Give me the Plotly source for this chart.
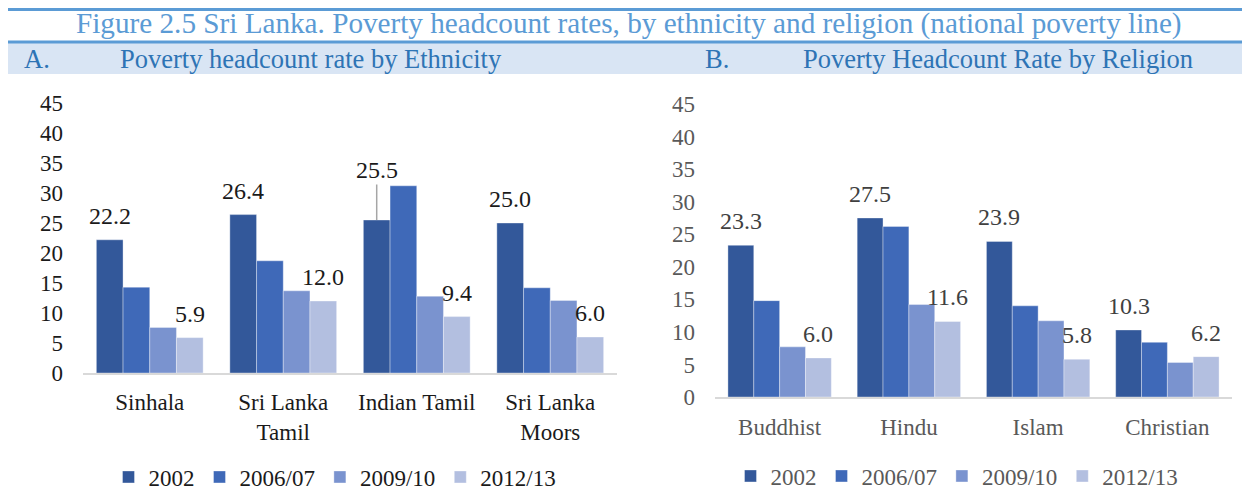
import plotly.graph_objects as go

# ---------------- data ----------------
years = ["2002", "2006/07", "2009/10", "2012/13"]

ethnicity = ["Sinhala", "Sri Lanka Tamil", "Indian Tamil", "Sri Lanka Moors"]
ethnicity_ticks = ["Sinhala", "Sri Lanka<br>Tamil", "Indian Tamil", "Sri Lanka<br>Moors"]
eth_2002 = [22.2, 26.4, 25.5, 25.0]
eth_2006 = [14.3, 18.7, 31.2, 14.2]
eth_2009 = [7.6, 13.7, 12.8, 12.1]
eth_2012 = [5.9, 12.0, 9.4, 6.0]

religion = ["Buddhist", "Hindu", "Islam", "Christian"]
rel_2002 = [23.3, 27.5, 23.9, 10.3]
rel_2006 = [14.8, 26.2, 14.0, 8.4]
rel_2009 = [7.7, 14.2, 11.7, 5.3]
rel_2012 = [6.0, 11.6, 5.8, 6.2]

y_ticks = [0, 5, 10, 15, 20, 25, 30, 35, 40, 45]

title_text = "Figure 2.5 Sri Lanka. Poverty headcount rates, by ethnicity and religion (national poverty line)"
panel_a = ["A.", "Poverty headcount rate by Ethnicity"]
panel_b = ["B.", "Poverty Headcount Rate by Religion"]

# ---------------- style ----------------
W, H = 1250, 491
OFF = 8  # page body margin: the figure's top-left sits at (8, 8) on the page
FONT = "Liberation Serif"
colors = ["#33589a", "#3f69b8", "#7a93cf", "#b3bfe0"]
BARGAP = 0.2


def px_x(p):
    """page x pixel -> paper fraction"""
    return (p - OFF) / W


def px_y(p):
    """page y pixel -> paper fraction"""
    return 1 - (p - OFF) / H


fig = go.Figure()

eth_series = [eth_2002, eth_2006, eth_2009, eth_2012]
rel_series = [rel_2002, rel_2006, rel_2009, rel_2012]

for i, (yr, vals) in enumerate(zip(years, eth_series)):
    fig.add_trace(go.Bar(
        x=ethnicity, y=vals, name=yr, marker_color=colors[i],
        marker_line=dict(color="rgba(255,255,255,0.6)", width=0.6),
        xaxis="x", yaxis="y", legend="legend", hoverinfo="x+y+name",
    ))
for i, (yr, vals) in enumerate(zip(years, rel_series)):
    fig.add_trace(go.Bar(
        x=religion, y=vals, name=yr, marker_color=colors[i],
        marker_line=dict(color="rgba(255,255,255,0.6)", width=0.6),
        xaxis="x2", yaxis="y2", legend="legend2", hoverinfo="x+y+name",
    ))

n = len(years)
bw = (1 - BARGAP) / n


def offset(i):
    return -0.5 * (1 - BARGAP) + bw * (i + 0.5)


annotations = []
labelled = [0, 3]
for series, xref, yref, color in [(eth_series, "x", "y", "#1a1a1a"),
                                  (rel_series, "x2", "y2", "#404040")]:
    for i in labelled:
        for j, v in enumerate(series[i]):
            # label that would collide with a taller neighbour is lifted with a leader line
            lifted = (i == 0 and j + 1 < n and series[1][j] > v + 3)
            a = dict(x=j + offset(i), y=v, xref=xref, yref=yref,
                     text=f"{v:.1f}", font=dict(family=FONT, size=24, color=color))
            if lifted:
                a.update(showarrow=True, ax=0, ay=-50, arrowhead=0,
                         arrowcolor="#a6a6a6", arrowwidth=1.5, standoff=0)
            else:
                a.update(showarrow=False, yanchor="bottom", yshift=9)
            annotations.append(a)

# title and panel headers
annotations.append(dict(x=px_x(629), y=px_y(24), xref="paper", yref="paper",
                        text=title_text, showarrow=False, xanchor="center", yanchor="middle",
                        font=dict(family=FONT, size=29.2, color="#5b9bd5")))
for txt, xp in [(panel_a[0], 22), (panel_a[1], 118), (panel_b[0], 703), (panel_b[1], 801)]:
    annotations.append(dict(x=px_x(xp), y=px_y(59), xref="paper", yref="paper",
                            text=txt, showarrow=False, xanchor="left", yanchor="middle",
                            font=dict(family=FONT, size=26.5, color="#2e74b5")))

top_line = max(5, OFF + 1.5)
shapes = [
    dict(type="rect", xref="paper", yref="paper", x0=max(px_x(7), 0), x1=1,
         y0=px_y(74), y1=px_y(43),
         fillcolor="#d9e5f4", line=dict(width=0), layer="below"),
    dict(type="line", xref="paper", yref="paper", x0=max(px_x(7), 0), x1=1,
         y0=px_y(top_line), y1=px_y(top_line),
         line=dict(color="#5b9bd5", width=3)),
    dict(type="line", xref="paper", yref="paper", x0=max(px_x(7), 0), x1=1,
         y0=px_y(42), y1=px_y(42),
         line=dict(color="#5b9bd5", width=3)),
]

fig.update_layout(
    width=W, height=H,
    margin=dict(l=0, r=0, t=0, b=0, pad=0, autoexpand=False),
    paper_bgcolor="white", plot_bgcolor="white",
    barmode="group", bargap=BARGAP, bargroupgap=0,
    font=dict(family=FONT),
    annotations=annotations,
    shapes=shapes,
    xaxis=dict(domain=[px_x(83), px_x(617)], anchor="y", showline=True, linecolor="#d9d9d9",
               linewidth=1.5, ticks="", tickvals=ethnicity, ticktext=ethnicity_ticks,
               tickfont=dict(family=FONT, size=23, color="#1a1a1a"), ticklabelstandoff=8,
               showgrid=False, zeroline=False, automargin=False),
    yaxis=dict(domain=[px_y(373), px_y(103)], anchor="x", range=[0, 45], tickvals=y_ticks,
               showgrid=False, zeroline=False, showline=False, ticks="",
               tickfont=dict(family=FONT, size=23, color="#1a1a1a"), ticklabelstandoff=19,
               automargin=False),
    xaxis2=dict(domain=[px_x(715), px_x(1232)], anchor="y2", showline=True, linecolor="#d9d9d9",
                linewidth=1.5, ticks="",
                tickfont=dict(family=FONT, size=23, color="#595959"), ticklabelstandoff=9,
                showgrid=False, zeroline=False, automargin=False),
    yaxis2=dict(domain=[px_y(397), px_y(104)], anchor="x2", range=[0, 45], tickvals=y_ticks,
                showgrid=False, zeroline=False, showline=False, ticks="",
                tickfont=dict(family=FONT, size=23, color="#595959"), ticklabelstandoff=19,
                automargin=False),
    legend=dict(orientation="h", x=px_x(335), y=px_y(477), xanchor="center", yanchor="middle",
                font=dict(family=FONT, size=23, color="#1a1a1a"), itemwidth=30,
                bgcolor="rgba(0,0,0,0)"),
    legend2=dict(orientation="h", x=px_x(957), y=px_y(476), xanchor="center", yanchor="middle",
                 font=dict(family=FONT, size=23, color="#595959"), itemwidth=30,
                 bgcolor="rgba(0,0,0,0)"),
)

fig.write_html("out.html")
